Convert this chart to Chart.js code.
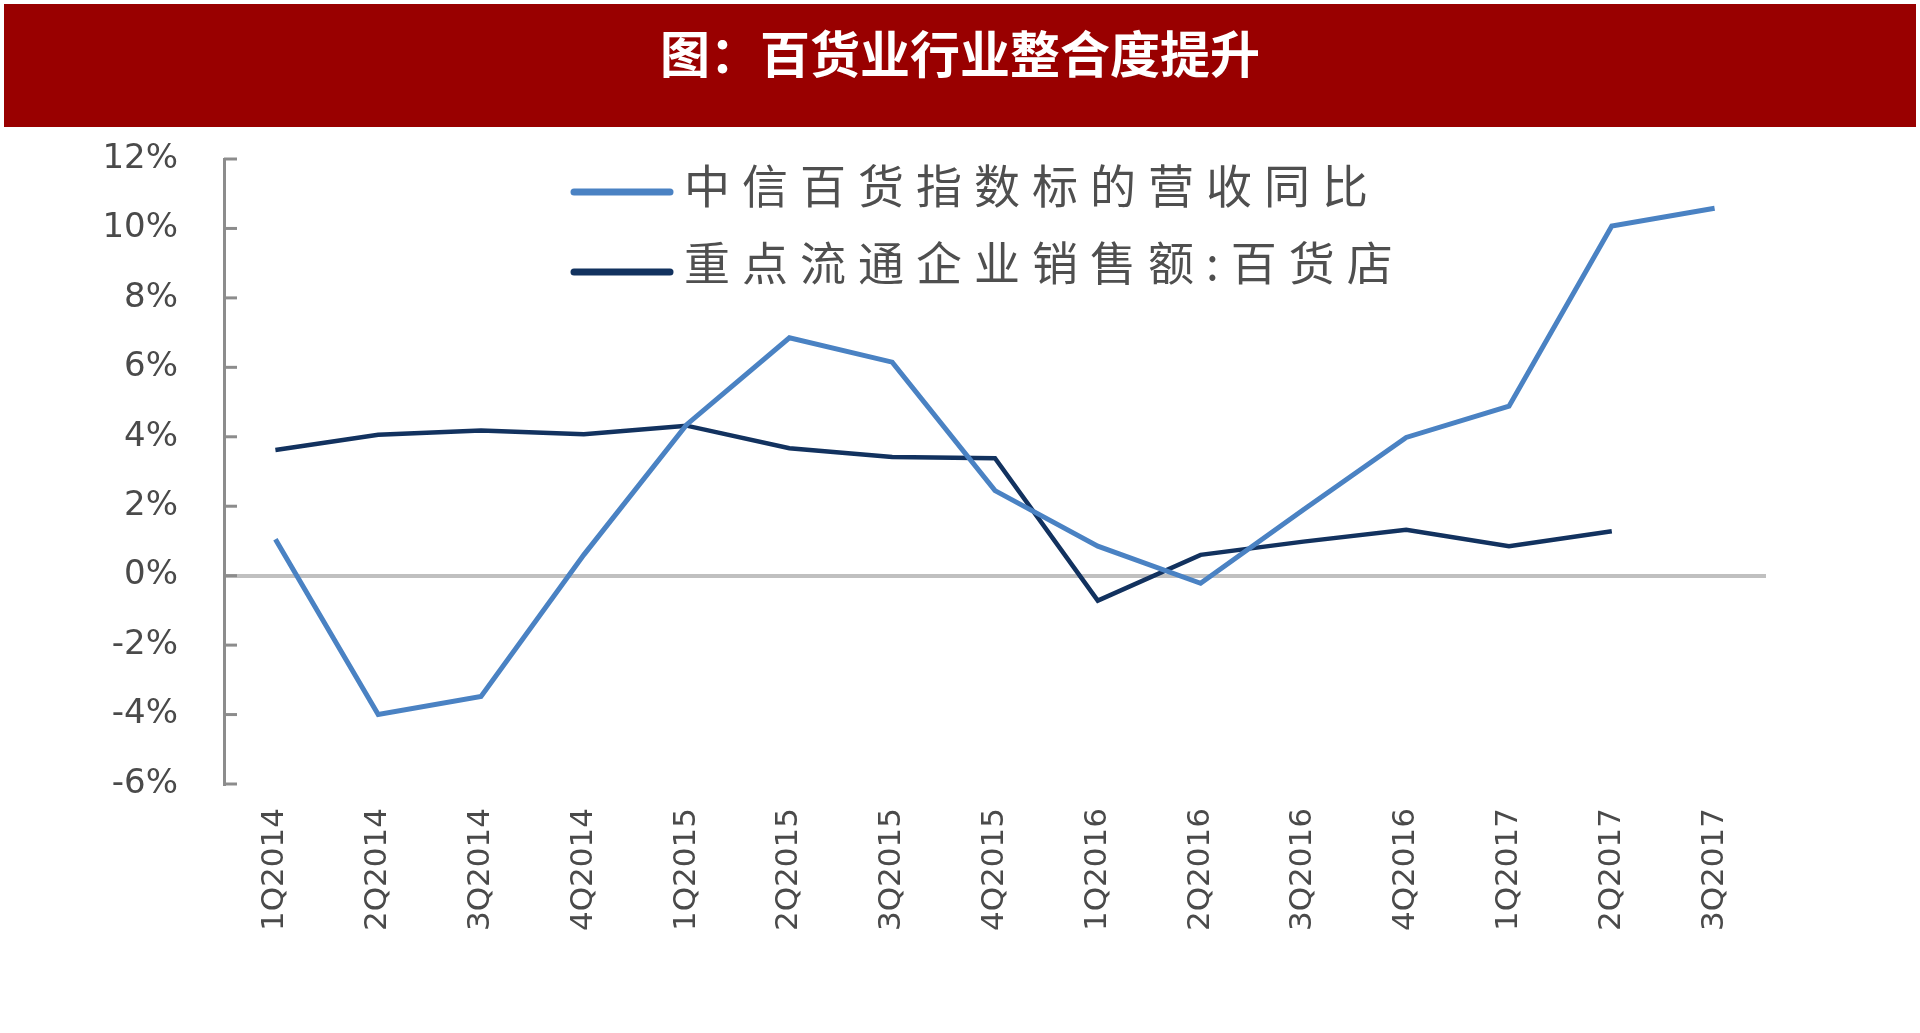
<!DOCTYPE html>
<html>
<head>
<meta charset="utf-8">
<script src="https://cdn.jsdelivr.net/npm/chart.js"></script>
<style>
  html, body { margin: 0; padding: 0; background: #fff; }
  #wrap { position: absolute; left: 0; top: 0; width: 1920px; height: 1033px; }
  #banner {
    position: absolute; left: 4px; top: 4px; width: 1912px; height: 123px;
    background: #990000; z-index: 2;
    color: #fff; font-family: "Noto Sans CJK SC", sans-serif; font-weight: bold;
    font-size: 50px; text-align: center; line-height: 50px;
  }
  #banner span { position: relative; top: 22px; }
</style>
</head>
<body>
<div id="wrap">
  <div id="banner"><span>图：百货业行业整合度提升</span></div>
  <canvas id="myChart"></canvas>
</div>
<script>
// quarters on the x axis
const quarters = ['1Q2014', '2Q2014', '3Q2014', '4Q2014', '1Q2015', '2Q2015', '3Q2015', '4Q2015',
  '1Q2016', '2Q2016', '3Q2016', '4Q2016', '1Q2017', '2Q2017', '3Q2017'];

// series (percent)
const citicRevenueYoY = [1.05, -4.0, -3.48, 0.6, 4.35, 6.85, 6.15, 2.45, 0.85, -0.22, 1.9, 3.98, 4.88, 10.07, 10.58];
const keyStoreSales = [3.62, 4.06, 4.18, 4.07, 4.32, 3.67, 3.42, 3.38, -0.72, 0.6, 0.98, 1.32, 0.85, 1.28, null];

const seriesNames = ['中信百货指数标的营收同比', '重点流通企业销售额:百货店'];

// y axis
const yMin = -6;
const yMax = 12;
const yStep = 2;

// small tick marks pointing into the plot, like the original
const innerTicks = {
  id: 'innerTicks',
  afterDraw(chart) {
    const y = chart.scales.y;
    const ctx = chart.ctx;
    ctx.save();
    ctx.strokeStyle = '#8c8c8c';
    ctx.lineWidth = 3;
    y.ticks.forEach(t => {
      const py = y.getPixelForValue(t.value);
      ctx.beginPath();
      ctx.moveTo(y.right, py);
      ctx.lineTo(y.right + 13, py);
      ctx.stroke();
    });
    ctx.restore();
  }
};

// legend drawn inside the plot, two rows
const innerLegend = {
  id: 'innerLegend',
  afterDraw(chart) {
    const ctx = chart.ctx;
    ctx.save();
    ctx.font = '46px "Noto Sans CJK SC"';
    ctx.textBaseline = 'middle';
    ctx.textAlign = 'left';
    if ('letterSpacing' in ctx) ctx.letterSpacing = '12px';
    chart.data.datasets.forEach((ds, i) => {
      const rowY = 192 + i * 80;
      ctx.strokeStyle = ds.borderColor;
      ctx.lineWidth = 7;
      ctx.lineCap = 'round';
      ctx.beginPath();
      ctx.moveTo(574, rowY);
      ctx.lineTo(670, rowY);
      ctx.stroke();
      ctx.fillStyle = '#4f4f4f';
      ctx.fillText(ds.label, 684, rowY - 6 - i * 3);
    });
    ctx.restore();
  }
};

const ctx = document.getElementById('myChart').getContext('2d');
const myChart = new Chart(ctx, {
  type: 'line',
  data: {
    labels: quarters,
    datasets: [{
      label: seriesNames[0],
      data: citicRevenueYoY,
      borderColor: '#4a82c3',
      borderWidth: 5,
      pointRadius: 0,
      tension: 0,
      fill: false
    }, {
      label: seriesNames[1],
      data: keyStoreSales,
      borderColor: '#12325f',
      borderWidth: 4.5,
      pointRadius: 0,
      tension: 0,
      fill: false
    }]
  },
  options: {
    responsive: true,
    maintainAspectRatio: false,
    animation: false,
    layout: { padding: { top: 159, right: 154, bottom: 0, left: 0 } },
    plugins: {
      legend: { display: false },
      tooltip: { enabled: false }
    },
    scales: {
      x: {
        offset: true,
        grid: { display: false, drawTicks: false },
        border: { display: false },
        ticks: {
          minRotation: 90,
          maxRotation: 90,
          padding: 24,
          color: '#4a4a4a',
          font: { family: 'DejaVu Sans', size: 31 }
        },
        afterFit(scale) { scale.height = 249; }
      },
      y: {
        min: yMin,
        max: yMax,
        grid: {
          drawTicks: false,
          lineWidth: 4,
          color: c => (c.tick && c.tick.value === 0) ? '#c0c0c0' : 'rgba(0,0,0,0)'
        },
        border: { display: true, color: '#8c8c8c', width: 3 },
        ticks: {
          stepSize: yStep,
          padding: 46,
          color: '#4a4a4a',
          font: { family: 'DejaVu Sans', size: 34 },
          callback: v => v + '%'
        },
        afterFit(scale) { scale.width = 224; }
      }
    }
  },
  plugins: [innerTicks, innerLegend]
});
</script>
</body>
</html>
